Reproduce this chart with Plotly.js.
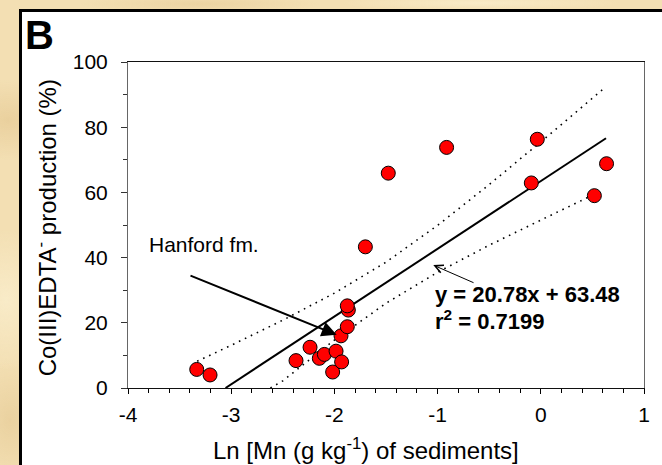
<!DOCTYPE html>
<html>
<head>
<meta charset="utf-8">
<script src="https://cdn.plot.ly/plotly-3.0.1.min.js"></script>
<style>
  html, body { margin: 0; padding: 0; width: 662px; height: 465px; overflow: hidden; }
  body {
    background-color: #F3DFB3;
    background-image:
      radial-gradient(ellipse 60px 40px at 8px 120px, rgba(226,196,140,0.55), rgba(226,196,140,0) 100%),
      radial-gradient(ellipse 50px 70px at 6px 300px, rgba(250,238,205,0.8), rgba(250,238,205,0) 100%),
      radial-gradient(ellipse 40px 60px at 10px 420px, rgba(228,200,146,0.6), rgba(228,200,146,0) 100%),
      radial-gradient(ellipse 120px 10px at 200px 4px, rgba(230,203,150,0.6), rgba(230,203,150,0) 100%),
      radial-gradient(ellipse 140px 8px at 480px 3px, rgba(250,238,205,0.8), rgba(250,238,205,0) 100%);
  }
  #frame {
    position: absolute; left: 19px; top: 9px; width: 700px; height: 520px;
    background: #ffffff; border: 3px solid #000; box-sizing: border-box;
  }
  #chart { position: absolute; left: 0; top: 0; width: 662px; height: 465px; }
</style>
</head>
<body>
<div id="frame"></div>
<div id="chart"></div>
<script>
// Measured data points: Ln[Mn] vs Co(III)EDTA- production (%)
const lnMn = [-3.334, -3.205, -2.372, -2.236, -2.146, -2.097, -2.017, -1.984, -1.930,
              -1.936, -1.875, -1.865, -1.875, -1.700, -1.478, -0.913, -0.034, -0.092, 0.519, 0.637];
const coProd = [5.7, 4.0, 8.4, 12.5, 9.1, 10.3, 4.9, 11.3, 8.0,
                16.0, 18.8, 23.9, 25.2, 43.3, 65.9, 73.8, 76.3, 62.9, 59.0, 68.8];

// Regression line (y = 20.78x + 63.48), end points
const fitX = [-3.055, 0.632];
const fitY = [0.0, 76.6];

// Dotted prediction bands
const upperX = [-3.33, -3.0, -2.5, -2.0, -1.5, -1.0, -0.5, 0.0, 0.62];
const upperY = [8.2, 13.1, 20.8, 29.1, 38.6, 49.9, 62.4, 75.5, 92.1];
const lowerX = [-2.62, -2.5, -2.0, -1.5, -1.0, -0.5, 0.0, 0.59];
const lowerY = [0.0, 2.2, 14.7, 26.0, 35.5, 43.8, 51.5, 60.5];

// Tick labels
const xTicks = [-4, -3, -2, -1, 0, 1];
const yTicks = [0, 20, 40, 60, 80, 100];

const FONT = 'Arial, "Liberation Sans", Helvetica, sans-serif';

const traces = [
  { x: upperX, y: upperY, mode: 'lines', type: 'scatter', hoverinfo: 'skip',
    line: { color: '#000', width: 1.6, dash: '1.6px,5px' } },
  { x: lowerX, y: lowerY, mode: 'lines', type: 'scatter', hoverinfo: 'skip',
    line: { color: '#000', width: 1.6, dash: '1.6px,5px' } },
  { x: fitX, y: fitY, mode: 'lines', type: 'scatter', hoverinfo: 'skip',
    line: { color: '#000', width: 2 } },
  { x: lnMn, y: coProd, mode: 'markers', type: 'scatter',
    marker: { color: '#FF0000', size: 14, line: { color: '#000', width: 1 } } }
];

const layout = {
  width: 662, height: 465,
  margin: { l: 128, r: 18, t: 62, b: 77 },
  paper_bgcolor: 'rgba(0,0,0,0)',
  plot_bgcolor: 'rgba(0,0,0,0)',
  showlegend: false,
  font: { family: FONT, color: '#000' },
  xaxis: {
    range: [-4, 1], tickvals: xTicks, ticktext: xTicks.map(String),
    ticks: 'outside', ticklen: 5, tickwidth: 1, tickcolor: '#000',
    minor: { dtick: 0.2, tick0: -4, ticks: 'outside', ticklen: 4, tickwidth: 1, tickcolor: '#000', showgrid: false },
    showline: true, linecolor: '#111', linewidth: 1, mirror: true,
    showgrid: false, zeroline: false,
    tickfont: { family: FONT, size: 21, color: '#000' },
    ticklabelstandoff: 3
  },
  yaxis: {
    range: [0, 100], tickvals: yTicks, ticktext: yTicks.map(String),
    ticks: 'outside', ticklen: 6, tickwidth: 1, tickcolor: '#333',
    minor: { dtick: 10, tick0: 0, ticks: 'outside', ticklen: 4, tickwidth: 1, tickcolor: '#333', showgrid: false },
    showline: true, linecolor: '#666', linewidth: 1, mirror: true,
    showgrid: false, zeroline: false,
    tickfont: { family: FONT, size: 21, color: '#000' },
    ticklabelstandoff: 9
  },
  annotations: [
    { xref: 'paper', yref: 'paper', x: -0.2037, y: 1.0838, xanchor: 'left', yanchor: 'middle',
      text: '<b>B</b>', showarrow: false, font: { family: FONT, size: 40, color: '#000' } },
    { xref: 'paper', yref: 'paper', x: 0.4622, y: -0.188, xanchor: 'center', yanchor: 'middle',
      text: 'Ln [Mn (g kg<sup>-1</sup>) of sediments]', showarrow: false,
      font: { family: FONT, size: 24, color: '#000' } },
    { xref: 'paper', yref: 'paper', x: -0.1593, y: 0.4923, xanchor: 'center', yanchor: 'middle',
      textangle: -90, text: 'Co(III)EDTA<sup>-</sup> production (%)', showarrow: false,
      font: { family: FONT, size: 24, color: '#000' } },
    { x: -3.819, y: 43.9, xanchor: 'left', yanchor: 'middle', text: 'Hanford fm.',
      showarrow: false, font: { family: FONT, size: 21, color: '#000' } },
    { x: -1.04, y: 28.7, xanchor: 'left', yanchor: 'middle', text: '<b>y = 20.78x + 63.48</b>',
      showarrow: false, font: { family: FONT, size: 22, color: '#000' } },
    { x: -1.04, y: 20.8, xanchor: 'left', yanchor: 'middle', text: '<b>r<sup>2</sup> = 0.7199</b>',
      showarrow: false, font: { family: FONT, size: 22, color: '#000' } },
    { x: -1.978, y: 16.3, ax: -3.409, ay: 34.66, axref: 'x', ayref: 'y', text: '',
      showarrow: true, arrowhead: 2, arrowsize: 1.5, arrowwidth: 2, arrowcolor: '#000' },
    { x: -1.042, y: 37.7, ax: -0.637, ay: 32.1, axref: 'x', ayref: 'y', text: '',
      showarrow: true, arrowhead: 5, arrowsize: 1.6, arrowwidth: 1, arrowcolor: '#000' }
  ]
};

Plotly.newPlot('chart', traces, layout, { displayModeBar: false, staticPlot: true });
</script>
</body>
</html>
